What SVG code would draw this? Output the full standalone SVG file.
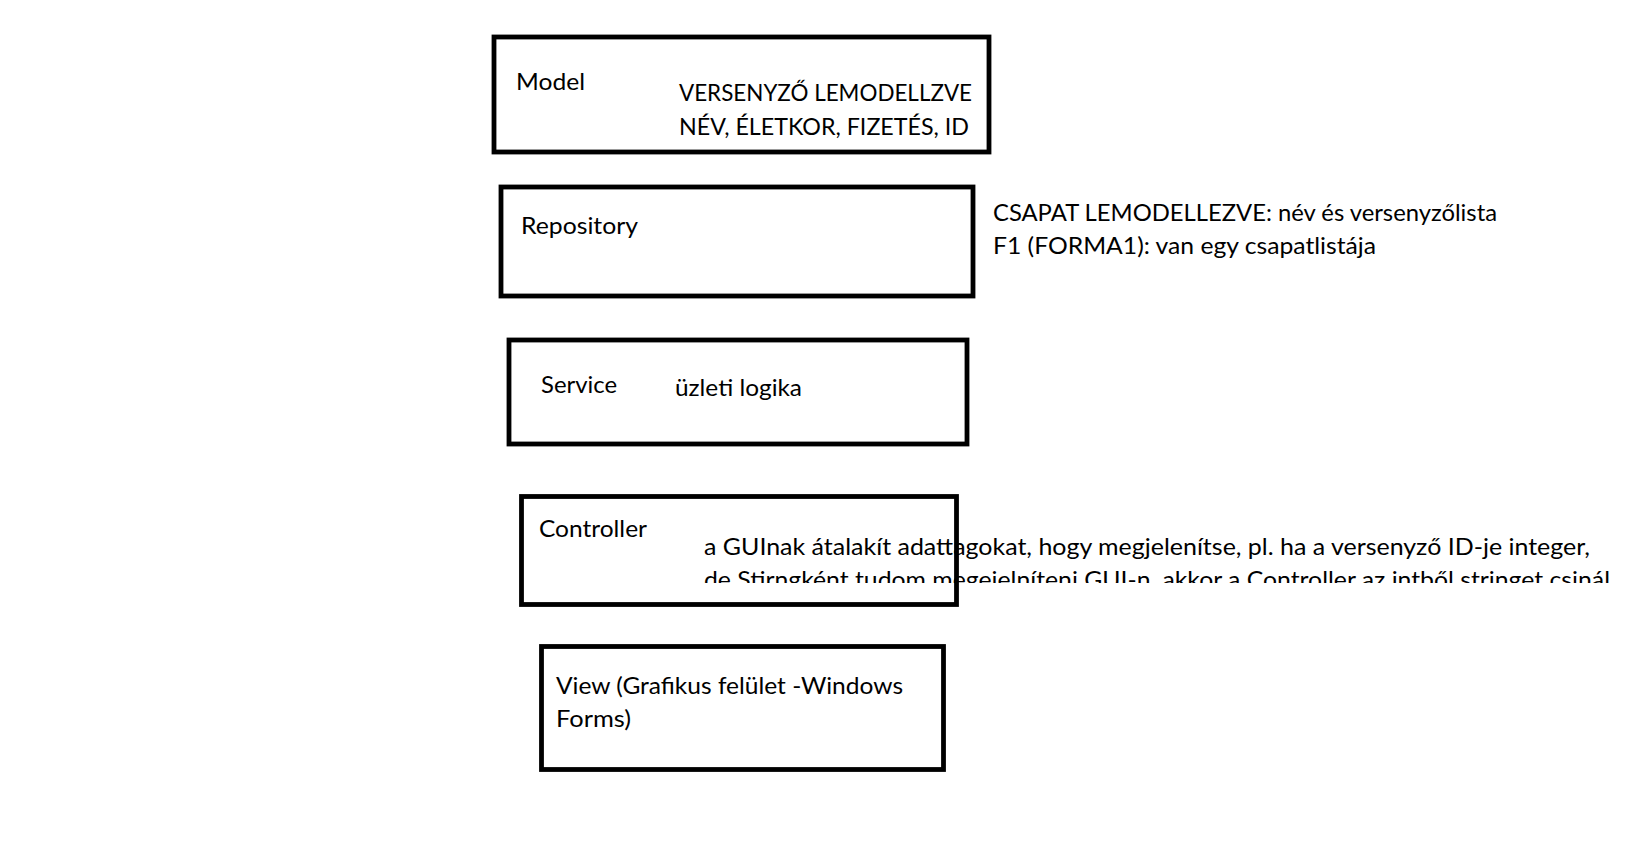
<svg xmlns="http://www.w3.org/2000/svg" width="1631" height="847" viewBox="0 0 1631 847">
<style>
.box{fill:none;stroke:#000;stroke-width:4.8}
.t{font-family:Lato,"Liberation Sans",sans-serif;font-size:23px;fill:#000}
</style>
<defs>
<clipPath id="ctrlClip"><rect x="0" y="0" width="1631" height="583"/></clipPath>
</defs>
<rect width="1631" height="847" fill="#fff"/>
<g id="model">
<rect class="box" x="494" y="37" width="495" height="115"/>
<text class="t" x="516" y="90" textLength="69" lengthAdjust="spacingAndGlyphs">Model</text>
<text class="t" x="679" y="101" textLength="293" lengthAdjust="spacingAndGlyphs">VERSENYZŐ LEMODELLZVE</text>
<text class="t" x="679" y="135" textLength="290" lengthAdjust="spacingAndGlyphs">NÉV, ÉLETKOR, FIZETÉS, ID</text>
</g>
<g id="repository">
<rect class="box" x="501" y="187" width="472" height="109"/>
<text class="t" x="521" y="234" textLength="117" lengthAdjust="spacingAndGlyphs">Repository</text>
</g>
<g id="repository-note">
<text class="t" x="993" y="221" textLength="504" lengthAdjust="spacingAndGlyphs">CSAPAT LEMODELLEZVE: név és versenyzőlista</text>
<text class="t" x="993" y="254" textLength="383" lengthAdjust="spacingAndGlyphs">F1 (FORMA1): van egy csapatlistája</text>
</g>
<g id="service">
<rect class="box" x="509" y="340" width="458" height="104"/>
<text class="t" x="541" y="393" textLength="76" lengthAdjust="spacingAndGlyphs">Service</text>
<text class="t" x="675" y="396" textLength="127" lengthAdjust="spacingAndGlyphs">üzleti logika</text>
</g>
<g id="controller">
<text class="t" x="539" y="537" textLength="108" lengthAdjust="spacingAndGlyphs">Controller</text>
<text class="t" x="704" y="555" textLength="886" lengthAdjust="spacingAndGlyphs">a GUInak átalakít adattagokat, hogy megjelenítse, pl. ha a versenyző ID-je integer,</text>
<g clip-path="url(#ctrlClip)">
<text class="t" x="704" y="588" textLength="906" lengthAdjust="spacingAndGlyphs">de Stirngként tudom megejelníteni GUI-n, akkor a Controller az intből stringet csinál</text>
</g>
<rect class="box" x="521.5" y="496.5" width="435" height="108"/>
</g>
<g id="view">
<rect class="box" x="541.5" y="646.5" width="402" height="123"/>
<text class="t" x="556" y="694" textLength="347" lengthAdjust="spacingAndGlyphs">View (Grafikus felület -Windows</text>
<text class="t" x="556" y="727" textLength="75" lengthAdjust="spacingAndGlyphs">Forms)</text>
</g>
</svg>
